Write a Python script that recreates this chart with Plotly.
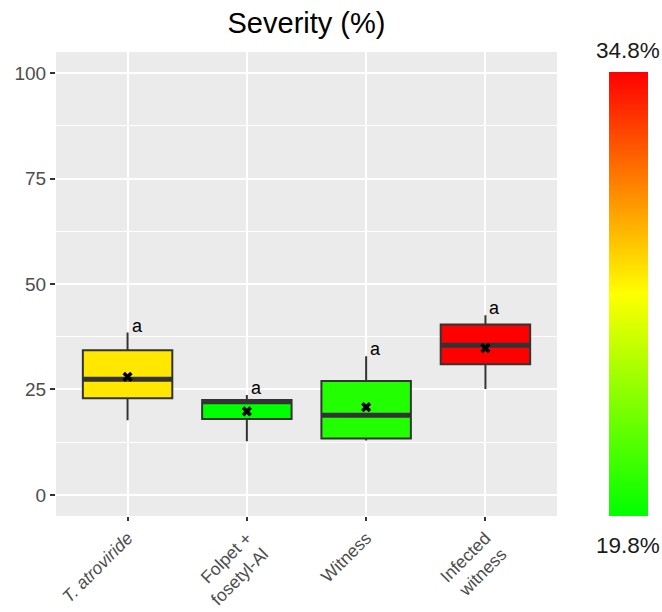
import plotly.graph_objects as go
from plotly.colors import sample_colorscale

categories = ["<i>T. atroviride</i>", "Folpet +<br>fosetyl-Al", "Witness", "Infected<br>witness"]
q1 = [22.9, 18.0, 13.4, 31.0]
median = [27.4, 22.1, 18.9, 35.5]
q3 = [34.3, 22.5, 27.0, 40.4]
lower_whisker = [17.7, 12.7, 12.9, 25.1]
upper_whisker = [38.5, 23.7, 32.9, 42.6]
means = [28.0, 19.8, 20.8, 34.8]
letters = ["a", "a", "a", "a"]
y_ticks = [0, 25, 50, 75, 100]

cmin, cmax = min(means), max(means)
cscale = [[0.0, "#00FF00"], [0.5, "#FFFF00"], [1.0, "#FF0000"]]
fills = sample_colorscale(cscale, [(m - cmin) / (cmax - cmin) for m in means])

xs = list(range(1, len(categories) + 1))
bw = 0.75
FONT = "Liberation Sans, Arial"

fig = go.Figure()
for i, x in enumerate(xs):
    fig.add_trace(go.Box(
        x=[x], q1=[q1[i]], median=[median[i]], q3=[q3[i]],
        lowerfence=[lower_whisker[i]], upperfence=[upper_whisker[i]],
        width=bw, whiskerwidth=0, fillcolor=fills[i], line=dict(color="#333333", width=2),
        boxpoints=False, showlegend=False, hoverinfo="skip"))
    fig.add_trace(go.Scatter(
        x=[x - bw / 2, x + bw / 2], y=[median[i], median[i]], mode="lines",
        line=dict(color="#333333", width=5), showlegend=False, hoverinfo="skip"))

fig.add_trace(go.Scatter(
    x=xs, y=means, mode="markers",
    marker=dict(symbol="x", size=9, color="black", line=dict(width=0)),
    showlegend=False, hoverinfo="skip"))

for i, x in enumerate(xs):
    fig.add_annotation(x=x, y=upper_whisker[i], text=letters[i], showarrow=False,
                       xanchor="left", yanchor="bottom", xshift=2, yshift=-5,
                       font=dict(size=18, color="black", family=FONT))

# colorbar
fig.add_trace(go.Scatter(
    x=[None], y=[None], mode="markers",
    marker=dict(color=[cmin, cmax], cmin=cmin, cmax=cmax, colorscale=cscale, showscale=True,
                colorbar=dict(thickness=39, thicknessmode="pixels", len=444, lenmode="pixels",
                              x=1.104, xanchor="left", xpad=0, y=0.478, yanchor="middle", ypad=0,
                              outlinewidth=0, showticklabels=False, ticks="")),
    showlegend=False, hoverinfo="skip"))

fig.add_annotation(xref="paper", yref="paper", x=1.142, y=1.0, text=f"{cmax}%", showarrow=False,
                   xanchor="center", yanchor="bottom", yshift=-13,
                   font=dict(size=22.5, color="#1a1a1a", family=FONT))
fig.add_annotation(xref="paper", yref="paper", x=1.142, y=0.0, text=f"{cmin}%", showarrow=False,
                   xanchor="center", yanchor="top", yshift=-15,
                   font=dict(size=22.5, color="#1a1a1a", family=FONT))

fig.update_layout(
    width=662, height=612,
    margin=dict(l=56, r=105, t=52, b=96, autoexpand=False),
    paper_bgcolor="white", plot_bgcolor="#EBEBEB",
    title=dict(text="Severity (%)", x=0.5, xref="paper", xanchor="center",
               y=1 - 23 / 612, yref="container", yanchor="middle",
               font=dict(size=29, color="black", family=FONT)),
    font=dict(family=FONT),
)
fig.update_xaxes(
    range=[0.4, 4.6], tickvals=xs, ticktext=categories, tickangle=-45,
    showgrid=True, gridcolor="white", gridwidth=2, zeroline=False,
    ticks="outside", ticklen=4, tickwidth=1.5, tickcolor="#333333",
    tickfont=dict(size=17.5, color="#4D4D4D"), showline=False, automargin=False)
fig.update_yaxes(
    range=[-5, 105], tickvals=y_ticks,
    showgrid=True, gridcolor="white", gridwidth=2, zeroline=False,
    minor=dict(dtick=12.5, tick0=12.5, showgrid=True, gridcolor="white", gridwidth=1),
    ticks="outside", ticklen=5, tickwidth=1.5, tickcolor="#333333",
    tickfont=dict(size=19, color="#4D4D4D"), showline=False, automargin=False)

fig.write_html("out.html", config={"displayModeBar": False},
               post_script="document.body.style.margin='0';")
